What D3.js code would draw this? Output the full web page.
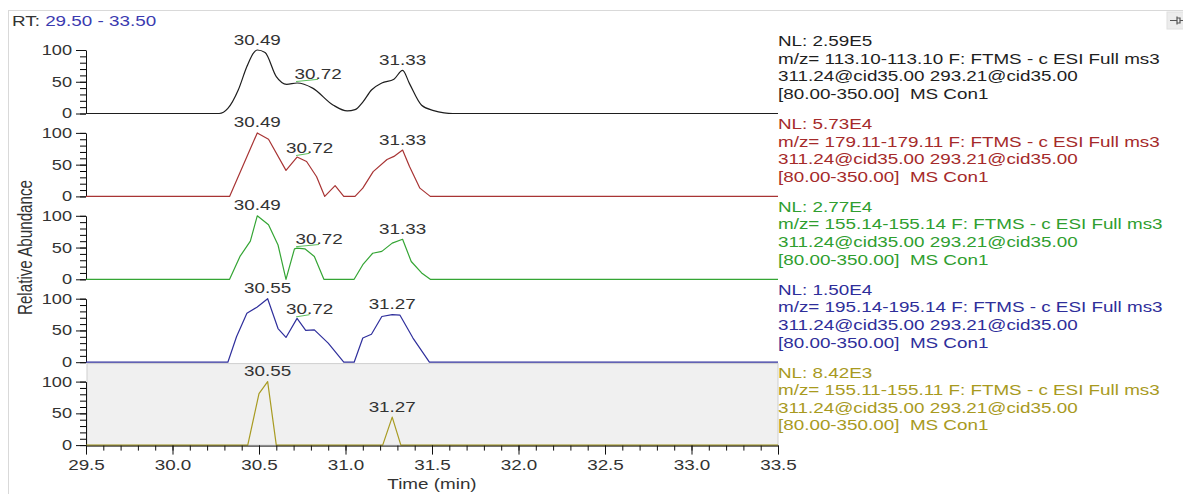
<!DOCTYPE html>
<html>
<head>
<meta charset="utf-8">
<script src="https://cdn.jsdelivr.net/npm/d3@7"></script>
<style>
  html, body { margin: 0; padding: 0; background: #fff; }
  svg { display: block; font-family: "Liberation Sans", Arial, sans-serif; }
</style>
</head>
<body>
<svg id="chart" width="1183" height="494"></svg>
<script>
// ---- Data -------------------------------------------------------------
// Retention-time window (min) and axis ticks
const rtRange = [29.5, 33.5];
const xMajorTicks = [29.5, 30.0, 30.5, 31.0, 31.5, 32.0, 32.5, 33.0, 33.5];
const yMajorTicks = [0, 50, 100];

// Chromatogram traces: [retention time (min), relative abundance (%)]
const trace113 = [
  [29.50, 0], [30.27, 0], [30.32, 8], [30.38, 37], [30.43, 74], [30.47, 96],
  [30.49, 100], [30.535, 96], [30.60, 58], [30.66, 46], [30.72, 48], [30.81, 40],
  [30.93, 13], [31.01, 4], [31.055, 6], [31.10, 18], [31.15, 37], [31.21, 48],
  [31.28, 54], [31.33, 68], [31.37, 47], [31.44, 13], [31.51, 4.5], [31.57, 1],
  [31.62, 0], [33.50, 0]
];
const trace179 = [
  [29.50, 0], [30.33, 0], [30.49, 100], [30.555, 90], [30.656, 41], [30.72, 62],
  [30.775, 55], [30.833, 31], [30.88, 0], [30.94, 17], [30.99, 0], [31.055, 0],
  [31.10, 13], [31.16, 39], [31.24, 58], [31.28, 63], [31.33, 73], [31.37, 47],
  [31.43, 13], [31.49, 0], [33.50, 0]
];
const trace155a = [
  [29.50, 0], [30.33, 0], [30.39, 36], [30.45, 60], [30.49, 100], [30.555, 86],
  [30.61, 54], [30.656, 0], [30.705, 48], [30.72, 49], [30.765, 48], [30.82, 36],
  [30.875, 0], [31.05, 0], [31.10, 23], [31.157, 41], [31.21, 44], [31.27, 57],
  [31.33, 63], [31.38, 28], [31.44, 10], [31.49, 0], [33.50, 0]
];
const trace195 = [
  [29.50, 0], [30.32, 0], [30.37, 40], [30.43, 77], [30.49, 87], [30.55, 100],
  [30.61, 53], [30.656, 39], [30.72, 69], [30.77, 50], [30.82, 51], [30.90, 30],
  [30.99, 0], [31.05, 0], [31.10, 38], [31.15, 44], [31.21, 72], [31.27, 75],
  [31.315, 74], [31.39, 38], [31.485, 0], [33.50, 0]
];
const trace155b = [
  [29.50, 0], [30.435, 0], [30.50, 81], [30.55, 100], [30.60, 0],
  [31.215, 0], [31.27, 44], [31.32, 0], [33.50, 0]
];

// Annotated peak apex times for each trace
const peaks113 = [30.49, 30.72, 31.33];
const peaks179 = [30.49, 30.72, 31.33];
const peaks155a = [30.49, 30.72, 31.33];
const peaks195 = [30.55, 30.72, 31.27];
const peaks155b = [30.55, 31.27];

// Normalisation levels and scan filters
const nlLevels = ["2.59E5", "5.73E4", "2.77E4", "1.50E4", "8.42E3"];
const mzRanges = ["113.10-113.10", "179.11-179.11", "155.14-155.14", "195.14-195.14", "155.11-155.11"];
const precursorLine = "311.24@cid35.00 293.21@cid35.00";
const scanRangeLine = "[80.00-350.00]  MS Con1";

// ---- Style / layout ---------------------------------------------------
const traceColors = ["#1e1e1e", "#a83434", "#34a534", "#2f2f9c", "#a89b22"];
const textColors  = ["#1e1e1e", "#a52a2a", "#2f9e2f", "#2e2e9a", "#a89a1e"];
const SX = 1.3;                 // horizontal glyph stretch of this display
const plotLeft = 86, plotRight = 778;
const firstBase = 113.5, panelStep = 82.9, panelHeight = 63.5;
const flagged = {30.72: [21, 12.5, 22, 12.5]};   // offset labels with leader line
const smoothPanels = [true, false, false, false, false];

const svg = d3.select("#chart");
const x = d3.scaleLinear().domain(rtRange).range([plotLeft, plotRight]);

function stretchText(sel) {
  sel.each(function () {
    const t = d3.select(this);
    const tx = +t.attr("x") || 0;
    t.attr("x", 0).attr("transform", `translate(${tx},0) scale(${SX},1)`);
  });
}
function putText(g, px, py, str, opts = {}) {
  return g.append("text")
    .attr("transform", `translate(${px},${py}) scale(${SX},1)`)
    .attr("text-anchor", opts.anchor || "start")
    .attr("font-size", opts.size || 14.5)
    .attr("fill", opts.fill || "#333")
    .style("white-space", "pre")
    .text(str);
}

// Outer frame
svg.append("line").attr("x1", 8).attr("x2", 1183).attr("y1", 10.5).attr("y2", 10.5)
  .attr("stroke", "#d9d9d9");
svg.append("line").attr("x1", 8.5).attr("x2", 8.5).attr("y1", 10).attr("y2", 494)
  .attr("stroke", "#d9d9d9");

// Pin button in the corner
const pin = svg.append("g");
pin.append("rect").attr("x", 1167).attr("y", 12).attr("width", 17).attr("height", 17)
  .attr("fill", "#ececec").attr("stroke", "#e0e0e0");
pin.append("path").attr("d", "M1170,20.5H1177M1177,16.5V24.5M1177,18H1180V23H1177M1180,20.5H1184")
  .attr("stroke", "#555").attr("fill", "none").attr("stroke-width", 1.2);

// Range caption
const rt = svg.append("text").attr("transform", `translate(12,26) scale(${SX},1)`)
  .attr("font-size", 14.5);
rt.append("tspan").attr("fill", "#333").text("RT: ");
rt.append("tspan").attr("fill", "#3b3bb0").text(`${rtRange[0].toFixed(2)} - ${rtRange[1].toFixed(2)}`);

const traces = [trace113, trace179, trace155a, trace195, trace155b];
const peakSets = [peaks113, peaks179, peaks155a, peaks195, peaks155b];

function valueAt(trace, t) {
  const hit = trace.find(d => Math.abs(d[0] - t) < 1e-6);
  if (hit) return hit[1];
  const i = d3.bisector(d => d[0]).left(trace, t);
  const a = trace[i - 1], b = trace[i];
  return a[1] + (b[1] - a[1]) * (t - a[0]) / (b[0] - a[0]);
}

traces.forEach((trace, i) => {
  const base = firstBase + i * panelStep;
  const y = d3.scaleLinear().domain([0, 100]).range([base, base - panelHeight]);
  const g = svg.append("g");

  // selected-panel shading
  if (i === traces.length - 1) {
    g.append("rect").attr("x", plotLeft + 1).attr("y", base - panelHeight - 18)
      .attr("width", plotRight - plotLeft - 1).attr("height", panelHeight + 18)
      .attr("fill", "#f0f0f0").attr("stroke", "#cfcfcf");
  }

  // Y axis: minor ticks every 10 %, labelled major ticks
  g.append("g").attr("transform", `translate(${plotLeft},0)`)
    .call(d3.axisLeft(y).tickValues(d3.range(0, 101, 10)).tickSize(6).tickFormat(""))
    .call(a => a.select(".domain").remove());
  const ya = g.append("g").attr("transform", `translate(${plotLeft},0)`)
    .call(d3.axisLeft(y).tickValues(yMajorTicks).tickSize(10).tickSizeOuter(0).tickPadding(4));
  ya.selectAll("line, path").attr("stroke", "#111");
  ya.selectAll("text").attr("font-size", 14).attr("font-family", "Liberation Sans, Arial, sans-serif")
    .attr("fill", "#333").call(stretchText);

  // X axis under the last panel
  if (i === traces.length - 1) {
    const xa = svg.append("g").attr("transform", `translate(0,${base + 0.5})`);
    xa.call(d3.axisBottom(x).tickValues(d3.range(295, 336, 1).map(v => v / 10)).tickSize(5).tickFormat(""))
      .call(a => a.select(".domain").remove());
    const xm = svg.append("g").attr("transform", `translate(0,${base + 0.5})`)
      .call(d3.axisBottom(x).tickValues(xMajorTicks).tickSize(9).tickSizeOuter(0).tickPadding(5)
        .tickFormat(d3.format(".1f")));
    xa.selectAll("line").attr("stroke", "#111");
    xm.selectAll("line, path").attr("stroke", "#111");
    xm.selectAll("text").attr("font-size", 14.5).attr("font-family", "Liberation Sans, Arial, sans-serif")
      .attr("fill", "#333").call(stretchText);
  }

  // trace
  const line = d3.line().x(d => x(d[0])).y(d => y(d[1]))
    .curve(smoothPanels[i] ? d3.curveMonotoneX : d3.curveLinear);
  g.append("path").datum(trace).attr("d", line)
    .attr("fill", "none").attr("stroke", traceColors[i]).attr("stroke-width", 1.2)
    .attr("stroke-linejoin", "round");

  // peak annotations
  peakSets[i].forEach(t => {
    const v = valueAt(trace, t);
    const px = x(t), py = y(v);
    const dx = flagged[t] ? flagged[t][i] : 0;
    if (dx) {
      const lb = py - 4.5;
      g.append("line").attr("x1", px - 1).attr("y1", py - 1.5).attr("x2", px + dx).attr("y2", lb + 0.8)
        .attr("stroke", "#5cc05c").attr("stroke-width", 1);
      putText(g, px + dx, lb, t.toFixed(2), {anchor: "middle"});
    } else {
      putText(g, px, py - 5.5, t.toFixed(2), {anchor: "middle"});
    }
  });

  // scan header text
  const top = base - 67.5;
  const lines = [
    `NL: ${nlLevels[i]}`,
    `m/z= ${mzRanges[i]} F: FTMS - c ESI Full ms3`,
    precursorLine,
    scanRangeLine
  ];
  lines.forEach((s, k) => putText(g, plotRight, top + k * 17.6, s, {fill: textColors[i]}));
});

// Axis titles
svg.append("text").attr("transform", `translate(${(plotLeft + plotRight) / 2},489) scale(${SX},1)`)
  .attr("text-anchor", "middle").attr("font-size", 14.5).attr("fill", "#333").text("Time (min)");
svg.append("text").attr("transform", `translate(25,247.5) scale(${SX},1) rotate(-90)`)
  .attr("text-anchor", "middle").attr("dy", "0.36em").attr("font-size", 15.2).attr("fill", "#333")
  .text("Relative Abundance");
</script>
</body>
</html>
